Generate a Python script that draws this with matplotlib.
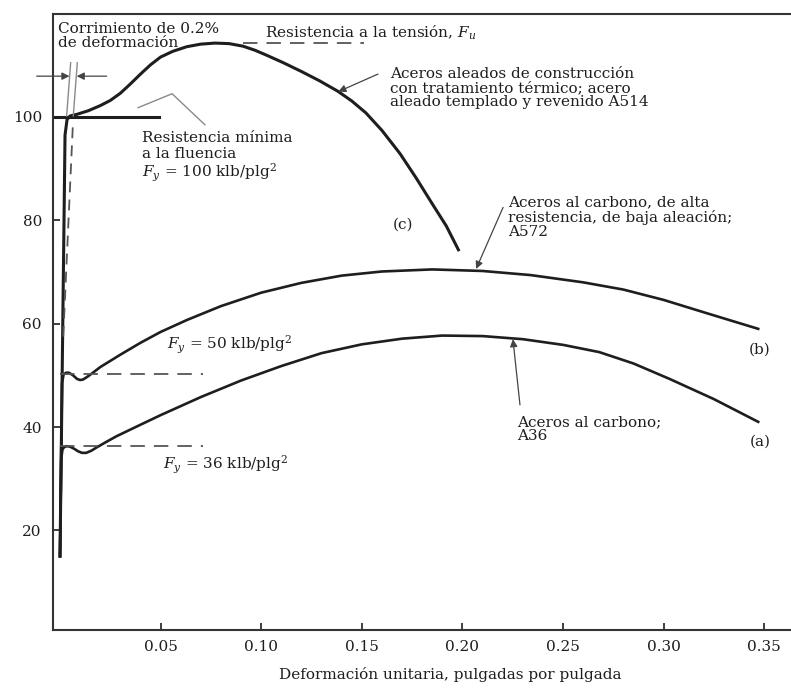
import matplotlib
matplotlib.use('Agg')
import matplotlib.pyplot as plt

# stress-strain curves (strain in in/in, stress in klb/plg2)
strain_a = [0.0000, 0.0006, 0.0012, 0.0020, 0.0033, 0.0050, 0.0070, 0.0090, 0.0110, 0.0130,
            0.0155, 0.0180, 0.0220, 0.0280, 0.0360, 0.0500, 0.0700, 0.0900, 0.1100, 0.1300,
            0.1500, 0.1700, 0.1900, 0.2100, 0.2300, 0.2500, 0.2680, 0.2850, 0.3030, 0.3250,
            0.3470]
stress_a = [15.0, 33.8, 35.6, 36.1, 36.3, 36.2, 35.8, 35.3, 35.0, 35.0,
            35.4, 36.0, 36.9, 38.2, 39.7, 42.3, 45.8, 49.0, 51.8, 54.3,
            56.0, 57.1, 57.7, 57.6, 57.0, 55.9, 54.5, 52.3, 49.3, 45.4,
            41.0]

strain_b = [0.0000, 0.0010, 0.0018, 0.0030, 0.0045, 0.0065, 0.0085, 0.0100, 0.0115, 0.0135,
            0.0160, 0.0200, 0.0300, 0.0400, 0.0500, 0.0630, 0.0800, 0.1000, 0.1200, 0.1400,
            0.1600, 0.1850, 0.2100, 0.2340, 0.2600, 0.2800, 0.3000, 0.3200, 0.3470]
stress_b = [15.0, 48.5, 50.2, 50.5, 50.5, 50.0, 49.3, 49.1, 49.2, 49.7,
            50.4, 51.6, 54.0, 56.3, 58.4, 60.7, 63.4, 66.0, 67.9, 69.3,
            70.1, 70.5, 70.2, 69.4, 68.0, 66.6, 64.6, 62.2, 59.0]

strain_c = [0.0000, 0.0025, 0.0035, 0.0050, 0.0083, 0.0140, 0.0200, 0.0250, 0.0300, 0.0350,
            0.0400, 0.0450, 0.0500, 0.0560, 0.0630, 0.0700, 0.0770, 0.0840, 0.0910, 0.0970,
            0.1030, 0.1110, 0.1200, 0.1290, 0.1380, 0.1450, 0.1520, 0.1600, 0.1690, 0.1770,
            0.1850, 0.1920, 0.1980]
stress_c = [15.0, 96.5, 99.5, 100.2, 100.5, 101.2, 102.2, 103.2, 104.6, 106.4,
            108.3, 110.1, 111.6, 112.7, 113.6, 114.1, 114.3, 114.2, 113.7, 112.9,
            111.9, 110.5, 108.8, 107.0, 105.0, 103.1, 100.8, 97.4, 92.9, 88.2,
            83.2, 78.9, 74.3]

fy_values = [36.3, 50.3]
fy_line_x = [0.0, 0.071]
fy_min_x = [-0.0025, 0.049]
fy_min = 100
fu_line_x = [0.091, 0.151]
fu = 114.3
offset_x = [0.0016, 0.0064]
offset_y = [57.5, 98.5]

x_ticks = [0.05, 0.10, 0.15, 0.20, 0.25, 0.30, 0.35]
x_tick_labels = ['0.05', '0.10', '0.15', '0.20', '0.25', '0.30', '0.35']
y_ticks = [20, 40, 60, 80, 100]

plt.rcParams['font.family'] = 'DejaVu Serif'
plt.rcParams['mathtext.fontset'] = 'dejavuserif'
plt.rcParams['font.size'] = 11

ink = '#1e1e1e'
fig = plt.figure(figsize=(7.91, 6.93), dpi=100)
ax = fig.add_axes([53 / 791, 1 - 630 / 693, 738 / 791, 616 / 693])

ax.plot(strain_a, stress_a, color=ink, lw=1.9, solid_joinstyle='round')
ax.plot(strain_b, stress_b, color=ink, lw=1.9, solid_joinstyle='round')
ax.plot(strain_c, stress_c, color=ink, lw=2.2, solid_joinstyle='round')
ax.plot(fy_min_x, [fy_min, fy_min], color=ink, lw=2.2)

for fy in fy_values:
    ax.plot(fy_line_x, [fy, fy], color='#555555', lw=1.3, ls=(0, (8, 5)))
ax.plot(fu_line_x, [fu, fu], color='#555555', lw=1.3, ls=(0, (8, 5)))
ax.plot(offset_x, offset_y, color='#555555', lw=1.3, ls=(0, (6, 4)))

# 0.2% offset marker
ax.plot([0.0033, 0.0053], [100.2, 110.5], color='#8a8a8a', lw=1.0)
ax.plot([0.0066, 0.0086], [100.2, 110.5], color='#8a8a8a', lw=1.0)
arrow = dict(arrowstyle='-|>', color='#444444', lw=0.9, mutation_scale=11, shrinkA=0, shrinkB=0)
ax.annotate('', xy=(0.0047, 107.9), xytext=(-0.0116, 107.9), arrowprops=arrow, annotation_clip=False)
ax.annotate('', xy=(0.0083, 107.9), xytext=(0.0232, 107.9), arrowprops=arrow)

# leader for minimum yield
ax.plot([0.0388, 0.0557, 0.0720], [101.8, 104.5, 98.5], color='#8a8a8a', lw=1.0)

ax.text(-0.001, 115.6, 'Corrimiento de 0.2%\nde deformación', va='center', ha='left',
        color=ink, linespacing=1.0)
ax.text(0.1019, 116.3, 'Resistencia a la tensión, $F_u$', va='center', ha='left', color=ink)
ax.text(0.164, 105.6, 'Aceros aleados de construcción\ncon tratamiento térmico; acero\n'
        'aleado templado y revenido A514', va='center', ha='left', color=ink, linespacing=1.0)
ax.annotate('', xy=(0.1383, 104.9), xytext=(0.158, 108.3), arrowprops=arrow)
ax.text(0.0408, 97.2, 'Resistencia mínima\na la fluencia\n$F_y$ = 100 klb/plg$^2$',
        va='top', ha='left', color=ink, linespacing=1.1)
ax.text(0.1705, 79.1, '(c)', va='center', ha='center', color=ink)
ax.text(0.2227, 80.6, 'Aceros al carbono, de alta\nresistencia, de baja aleación;\nA572',
        va='center', ha='left', color=ink, linespacing=1.0)
ax.annotate('', xy=(0.2068, 70.6), xytext=(0.2202, 82.5), arrowprops=arrow)
ax.text(0.3479, 54.9, '(b)', va='center', ha='center', color=ink)
ax.text(0.3479, 37.1, '(a)', va='center', ha='center', color=ink)
ax.text(0.2271, 39.6, 'Aceros al carbono;\nA36', va='center', ha='left', color=ink,
        linespacing=1.0)
ax.annotate('', xy=(0.2251, 57.0), xytext=(0.2286, 44.3), arrowprops=arrow)
ax.text(0.0532, 55.8, '$F_y$ = 50 klb/plg$^2$', va='center', ha='left', color=ink)
ax.text(0.0512, 32.6, '$F_y$ = 36 klb/plg$^2$', va='center', ha='left', color=ink)

ax.set_xlim(-0.00348, 0.3633)
ax.set_ylim(0.72, 119.93)
ax.set_xticks(x_ticks)
ax.set_xticklabels(x_tick_labels)
ax.set_yticks(y_ticks)
ax.tick_params(direction='in', length=5, width=1.2, colors=ink, labelsize=11)
ax.tick_params(axis='y', pad=8)
ax.tick_params(axis='x', pad=7)
for side in ['left', 'bottom', 'top']:
    ax.spines[side].set_linewidth(1.5)
    ax.spines[side].set_color('#333333')
ax.spines['right'].set_visible(False)
ax.set_xlabel('Deformación unitaria, pulgadas por pulgada', color=ink, labelpad=6)
ax.xaxis.set_label_coords(0.538, -0.06)

fig.savefig('out.png', dpi=100)
